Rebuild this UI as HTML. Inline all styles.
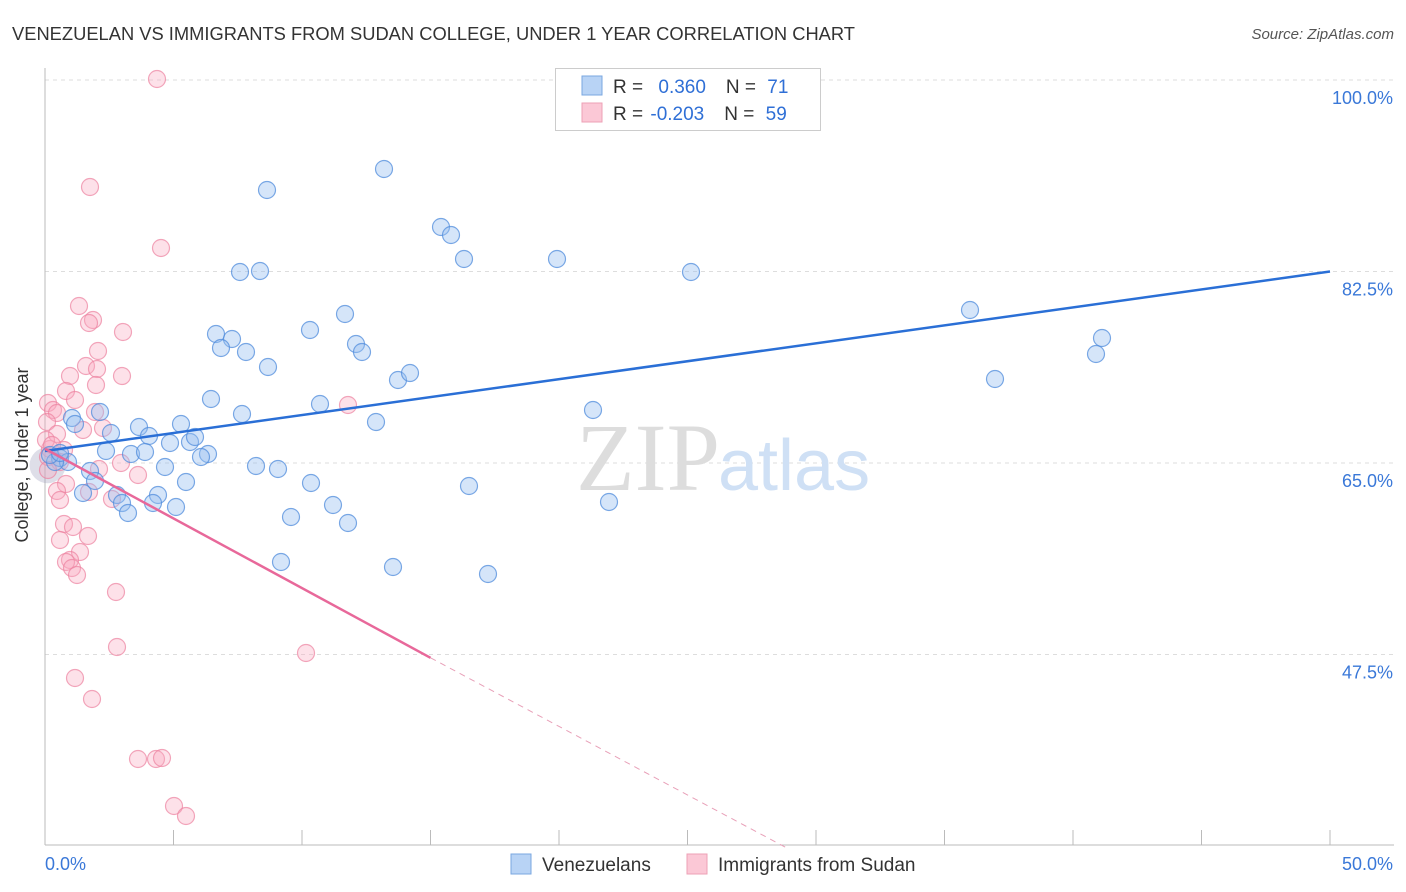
<!DOCTYPE html>
<html><head><meta charset="utf-8"><style>
body{margin:0;background:#fff;font-family:"Liberation Sans",sans-serif}
#c{position:absolute;left:0;top:0}
</style></head><body>
<svg id="c" width="1406" height="892">
<text x="12" y="40" font-size="18" fill="#333" textLength="843" lengthAdjust="spacingAndGlyphs">VENEZUELAN VS IMMIGRANTS FROM SUDAN COLLEGE, UNDER 1 YEAR CORRELATION CHART</text>
<text x="1394" y="39" font-size="15" fill="#555" font-style="italic" text-anchor="end">Source: ZipAtlas.com</text>
<g id="grid"></g>
<text x="720" y="490" font-size="96" fill="#ddd" font-family="Liberation Serif" text-anchor="end">ZIP</text>
<text x="718" y="490" font-size="72" fill="#cfe0f5">atlas</text>
<g id="pts"></g>
<g id="lines"></g>
<text x="28" y="455" font-size="18" fill="#333" transform="rotate(-90 28 455)" text-anchor="middle">College, Under 1 year</text>
<g>
<rect x="555.5" y="68.5" width="265" height="62" fill="#fff" stroke="#ccc"/>
<rect x="582" y="76" width="20" height="19" fill="#b8d3f5" stroke="#7aa7e0"/>
<rect x="582" y="103" width="20" height="19" fill="#fbc8d6" stroke="#eea0b6"/>
<text x="613" y="93" font-size="19" fill="#333">R = <tspan fill="#2f6fd6" dx="10">0.360</tspan><tspan dx="20">N = </tspan><tspan fill="#2f6fd6" dx="6">71</tspan></text>
<text x="613" y="120" font-size="19" fill="#333">R = <tspan fill="#2f6fd6" dx="2">-0.203</tspan><tspan dx="20">N = </tspan><tspan fill="#2f6fd6" dx="6">59</tspan></text>
</g>
<g>
<rect x="511" y="854" width="20" height="20" fill="#b8d3f5" stroke="#7aa7e0"/>
<text x="542" y="871" font-size="19" fill="#333">Venezuelans</text>
<rect x="687" y="854" width="20" height="20" fill="#fbc8d6" stroke="#eea0b6"/>
<text x="718" y="871" font-size="19" fill="#333">Immigrants from Sudan</text>
</g>
</svg>
<script>
const yTicks=[100,82.5,65,47.5];
const xTickLabels=["0.0%","50.0%"];
const bluePx=[[384,169],[267,190],[441,227],[451,235],[464,259],[557,259],[240,272],[260,271],[691,272],[345,314],[310,330],[970,310],[216,334],[232,339],[221,348],[246,352],[356,344],[362,352],[1102,338],[1096,354],[268,367],[398,380],[410,373],[995,379],[211,399],[320,404],[242,414],[376,422],[593,410],[100,412],[72,418],[75,424],[139,427],[181,424],[111,433],[149,436],[190,442],[195,437],[170,443],[106,451],[131,454],[145,452],[208,454],[201,457],[60,458],[68,462],[256,466],[278,469],[165,467],[90,471],[95,481],[186,482],[311,483],[469,486],[117,495],[83,493],[158,495],[153,503],[122,503],[176,507],[333,505],[128,513],[291,517],[348,523],[609,502],[281,562],[393,567],[488,574],[55,462],[50,455],[60,453]];
const pinkPx=[[157,79],[90,187],[161,248],[79,306],[93,320],[89,323],[123,332],[98,351],[86,366],[97,369],[122,376],[70,376],[96,385],[66,391],[75,400],[48,403],[53,410],[57,413],[95,412],[103,428],[83,430],[348,405],[47,422],[57,434],[50,449],[64,450],[48,457],[99,469],[121,463],[138,475],[66,484],[57,491],[89,492],[112,499],[60,500],[64,524],[73,527],[60,540],[88,536],[80,552],[70,560],[66,562],[72,568],[77,575],[116,592],[117,647],[306,653],[75,678],[92,699],[138,759],[156,759],[162,758],[174,806],[186,816],[46,440],[52,445],[60,462],[48,470]];
const X0=45,X1=1330;
const xv=p=>(p-X0)/(X1-X0)*50, yvv=p=>100-(p-80)/10.943;
const blueX=bluePx.map(p=>xv(p[0])), blueY=bluePx.map(p=>yvv(p[1]));
const pinkX=pinkPx.map(p=>xv(p[0])), pinkY=pinkPx.map(p=>yvv(p[1]));
const blueTrend=[66.1,82.5], pinkTrend=[66.3,47.2,29.9];
const sx=v=>X0+v/50*(X1-X0), sy=v=>80+(100-v)*10.943;
const NS="http://www.w3.org/2000/svg";
function mk(tag,attrs,parent){const e=document.createElementNS(NS,tag);for(const k in attrs)e.setAttribute(k,attrs[k]);parent.appendChild(e);return e;}
const g=document.getElementById('grid');
yTicks.forEach((t,i)=>{
 const l=mk('line',{x1:45,x2:1394,y1:sy(t),y2:sy(t),stroke:'#ddd','stroke-dasharray':'4,4'},g);
 
 
 const tx=mk('text',{x:1393,y:sy(t)+24,'font-size':18,fill:'#3a78d8','text-anchor':'end'},g);
 tx.textContent=t.toFixed(1)+'%';
 
 
});
mk('line',{x1:45,x2:45,y1:68,y2:845,stroke:'#bbb'},g);
mk('line',{x1:45,x2:1394,y1:845,y2:845,stroke:'#bbb'},g);
for(let i=0;i<=10;i++){mk('line',{x1:sx(i*5),x2:sx(i*5),y1:830,y2:845,stroke:'#bbb'},g);}
[[0,45,'start'],[1,1393,'end']].forEach(([i,x,a])=>{const t=mk('text',{x:x,y:870,'font-size':18,fill:'#3a78d8','text-anchor':a},g);t.textContent=xTickLabels[i];
 
 });
const pg=document.getElementById('pts');
const big=mk('circle',{cx:sx(0.1),cy:sy(64.8),r:18,fill:'rgba(160,160,190,0.35)'},pg);


pinkX.forEach((x,i)=>{const c=mk('circle',{cx:sx(x),cy:sy(pinkY[i]),r:8.5,fill:'rgba(248,170,192,0.35)',stroke:'rgba(236,130,160,0.7)','stroke-width':1.2},pg);
 
 });
blueX.forEach((x,i)=>{const c=mk('circle',{cx:sx(x),cy:sy(blueY[i]),r:8.5,fill:'rgba(150,190,240,0.4)',stroke:'rgba(80,140,220,0.75)','stroke-width':1.2},pg);
 
 });
const lg=document.getElementById('lines');
const bl=mk('line',{x1:sx(0),y1:sy(blueTrend[0]),x2:sx(50),y2:sy(blueTrend[1]),stroke:'#2a6fd6','stroke-width':2.5},lg);


const pl=mk('line',{x1:sx(0),y1:sy(pinkTrend[0]),x2:sx(15),y2:sy(pinkTrend[1]),stroke:'#e8689a','stroke-width':2.5},lg);


const pd=mk('line',{x1:sx(15),y1:sy(pinkTrend[1]),x2:sx(28.8),y2:sy(pinkTrend[2]),stroke:'#e8a0b8','stroke-width':1,'stroke-dasharray':'6,5'},lg);


</script>
</body></html>
